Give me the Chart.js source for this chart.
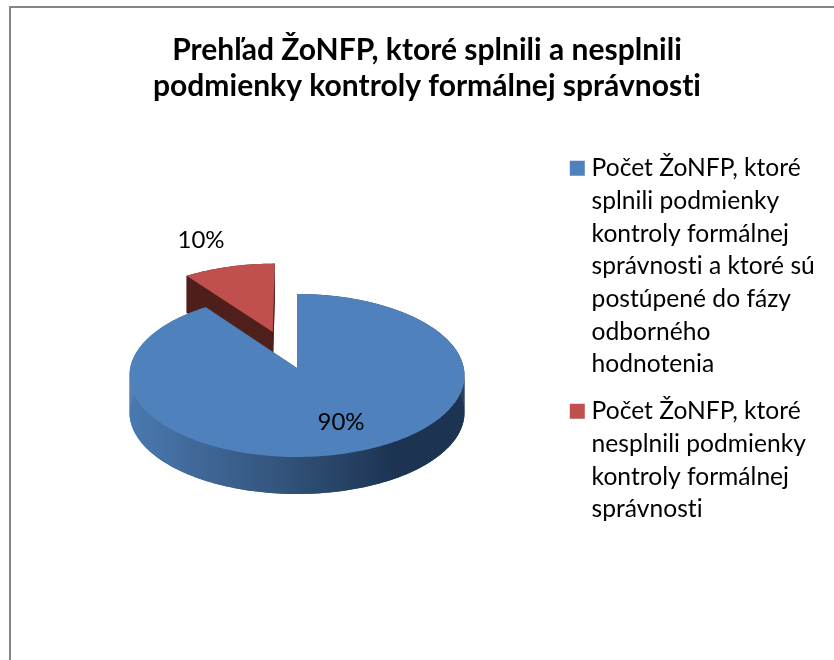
<!DOCTYPE html>
<html><head><meta charset="utf-8">
<style>html,body{margin:0;padding:0;background:#fff}#wrap{position:absolute;left:0;top:0;width:834px;height:660px}</style>
<script src="https://cdn.jsdelivr.net/npm/chart.js@4"></script>
</head><body><div id="wrap"><canvas id="c" width="834" height="660"></canvas></div>
<script>
const titleLines = ['Prehľad ŽoNFP, ktoré splnili a nesplnili', 'podmienky kontroly formálnej správnosti'];
const categories = [
  ['Počet ŽoNFP, ktoré','splnili podmienky','kontroly formálnej','správnosti a ktoré sú','postúpené do fázy','odborného','hodnotenia'],
  ['Počet ŽoNFP, ktoré','nesplnili podmienky','kontroly formálnej','správnosti']
];
const values = [90, 10];
const sliceColors = ['#4f81bd', '#c0504d'];
const explodeRatio = [0, 0.49];

const GEO = {cx:297, cy:368, rx:166.8, ry:80.8, p:0.092, depth:37};
const LABEL_AT = [[341,422],[201,240]];

function project(u, v){
  const w = 1 - GEO.p * v;
  return [GEO.cx + GEO.rx * u / w, GEO.cy + GEO.ry * v / w];
}
function outline(el, i){
  const {startAngle, endAngle} = el.getProps(['startAngle','endAngle'], true);
  const d = explodeRatio[i];
  const mid = (startAngle + endAngle) / 2;
  const u0 = Math.cos(mid) * d, v0 = Math.sin(mid) * d;
  const pts = [project(u0, v0)];
  const n = Math.max(8, Math.ceil((endAngle - startAngle) * 40));
  for (let k = 0; k <= n; k++){
    const a = startAngle + (endAngle - startAngle) * k / n;
    pts.push(project(u0 + Math.cos(a), v0 + Math.sin(a)));
  }
  return pts;
}
function poly(ctx, pts, dy){
  ctx.beginPath();
  pts.forEach((q, k) => k ? ctx.lineTo(q[0], q[1] + dy) : ctx.moveTo(q[0], q[1] + dy));
  ctx.closePath();
}
const pie3d = {
  id:'pie3d',
  beforeDatasetDraw(chart, args){
    const ctx = chart.ctx, meta = args.meta;
    ctx.save();
    [1, 0].forEach(i => {
      const pts = outline(meta.data[i], i);
      let wall;
      if (i === 0){
        wall = ctx.createLinearGradient(GEO.cx - GEO.rx, 0, GEO.cx + GEO.rx, 0);
        wall.addColorStop(0, '#4a79b0');
        wall.addColorStop(0.45, '#33547c');
        wall.addColorStop(0.8, '#1c3352');
        wall.addColorStop(1, '#1c3352');
      } else wall = '#4f1f1c';
      ctx.fillStyle = wall;
      poly(ctx, pts, GEO.depth); ctx.fill();
      for (let k = 0; k < pts.length; k++){
        const a = pts[k], b = pts[(k + 1) % pts.length];
        poly(ctx, [a, b, [b[0], b[1] + GEO.depth], [a[0], a[1] + GEO.depth]], 0);
        ctx.fill();
      }
      ctx.fillStyle = sliceColors[i];
      poly(ctx, pts, 0); ctx.fill();
    });
    ctx.restore();
    return false;
  },
  afterDatasetsDraw(chart){
    const ctx = chart.ctx, total = values.reduce((a, b) => a + b, 0);
    ctx.save();
    ctx.font = '24px Lato';
    ctx.fillStyle = '#000';
    ctx.textAlign = 'center';
    ctx.textBaseline = 'middle';
    values.forEach((v, i) => ctx.fillText(Math.round(v / total * 100) + '%', LABEL_AT[i][0], LABEL_AT[i][1]));
    ctx.restore();
  }
};
const frame = {
  id:'frame',
  beforeDraw(chart){
    const ctx = chart.ctx;
    ctx.letterSpacing = '0.01px';
    ctx.save();
    ctx.strokeStyle = '#868686';
    ctx.lineWidth = 2;
    ctx.beginPath();
    ctx.moveTo(10, 660); ctx.lineTo(10, 7); ctx.lineTo(834, 7);
    ctx.stroke();
    ctx.restore();
  }
};
const ctx0 = document.getElementById('c').getContext('2d');
ctx0.letterSpacing = '0.01px';
new Chart(document.getElementById('c'), {
  type:'pie',
  data:{labels:categories, datasets:[{data:values, backgroundColor:sliceColors, borderWidth:0, rotation:0}]},
  plugins:[frame, pie3d],
  options:{
    responsive:false, animation:false,
    layout:{padding:{top:32, right:9, left:29, bottom:0}},
    plugins:{
      title:{display:true, text:titleLines, color:'#000',
        font:{family:'Lato', size:30, weight:'bold', lineHeight:36/30}, padding:{top:0,bottom:38}, align:'center',
        fullSize:true},
      legend:{position:'right', align:'start', fullSize:false,
        labels:{color:'#000', font:{family:'Lato', size:24.6, lineHeight:32.7/24.6}, boxWidth:4, boxHeight:15, padding:14, usePointStyle:true, pointStyle:'rect',
          generateLabels(chart){
            return chart.data.labels.map((t,i)=>({text:t, fillStyle:sliceColors[i], strokeStyle:sliceColors[i], lineWidth:0, index:i, pointStyle:'rect'}));
          }}},
      tooltip:{enabled:false}
    }
  }
});
</script></body></html>
